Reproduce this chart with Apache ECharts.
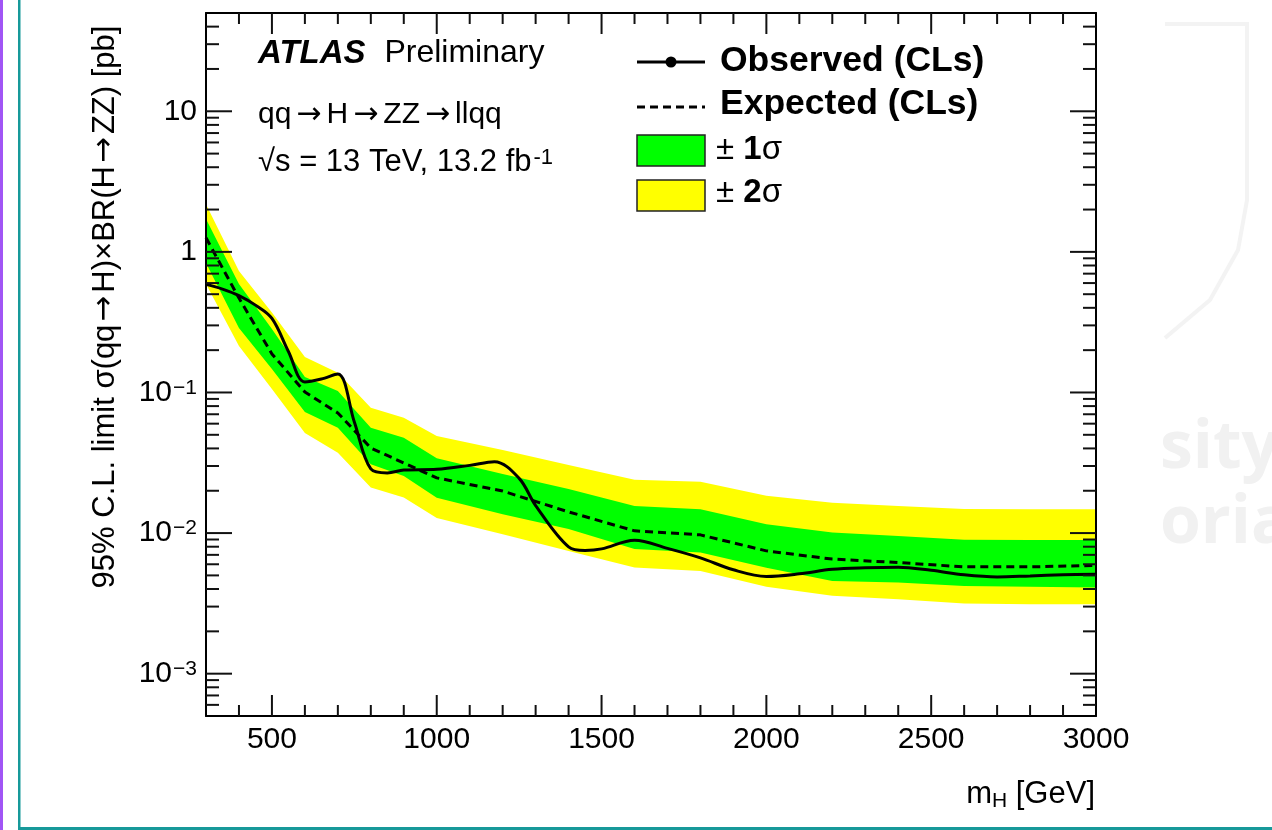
<!DOCTYPE html>
<html><head><meta charset="utf-8">
<script src="https://cdn.jsdelivr.net/npm/echarts@6/dist/echarts.min.js"></script>
<style>html,body{margin:0;padding:0;background:#fff;}#c{width:1272px;height:830px;}</style>
</head><body><div id="c"></div>
<script>
// ---- data ----
const massBand = [300,400,500,600,700,800,900,1000,1200,1400,1600,1800,2000,2200,2400,2600,2800,3000];
const expected = [1.26,0.469,0.188,0.1008,0.0715,0.0403,0.0315,0.0247,0.0199,0.01415,0.01037,0.00971,0.00747,0.00653,0.00617,0.00575,0.00575,0.00589];
const plus1sig = [1.71,0.590,0.283,0.129,0.1025,0.0562,0.0477,0.0340,0.0263,0.0206,0.0156,0.0148,0.01157,0.01008,0.00955,0.00895,0.00891,0.00891];
const minus1sig = [0.833,0.287,0.147,0.0727,0.0562,0.0309,0.0255,0.0178,0.0136,0.01071,0.00772,0.00727,0.00566,0.00457,0.00445,0.00421,0.00415,0.00410];
const plus2sig = [2.18,0.731,0.370,0.179,0.138,0.0780,0.0662,0.0491,0.0390,0.0305,0.0239,0.0232,0.0184,0.0164,0.0156,0.01486,0.01479,0.01479];
const minus2sig = [0.590,0.214,0.106,0.0516,0.0373,0.0211,0.0179,0.0128,0.00979,0.00747,0.00569,0.00538,0.00415,0.00358,0.00339,0.00315,0.00312,0.00312];
const massObs = [300,350,400,450,500,550,600,650,700,750,800,850,900,1000,1100,1175,1250,1300,1400,1450,1500,1600,1700,1800,1900,2000,2100,2200,2300,2400,2500,2600,2700,2800,2900,3000];
const observed = [0.587,0.544,0.489,0.418,0.336,0.1956,0.1187,0.1247,0.1354,0.0617,0.0286,0.0268,0.0281,0.0284,0.0303,0.0322,0.0245,0.0157,0.00798,0.00753,0.00772,0.00890,0.00778,0.00666,0.00548,0.00492,0.00513,0.00552,0.00566,0.00571,0.00543,0.00505,0.00488,0.00496,0.00505,0.00510];
const xTickValues = [400,500,600,700,800,900,1000,1100,1200,1300,1400,1500,1600,1700,1800,1900,2000,2100,2200,2300,2400,2500,2600,2700,2800,2900];
const yTickValues = [0.0006,0.0007,0.0008,0.0009,0.001,0.002,0.003,0.004,0.005,0.006,0.007,0.008,0.009,0.01,0.02,0.03,0.04,0.05,0.06,0.07,0.08,0.09,0.1,0.2,0.3,0.4,0.5,0.6,0.7,0.8,0.9,1,2,3,4,5,6,7,8,9,10,20,30,40];
const X_MIN = 300, X_MAX = 3000, Y_MIN = 5e-4, Y_MAX = 50;

const FONT = '"Liberation Sans", Arial, Helvetica, sans-serif';
const ARROWFONT = '"DejaVu Sans", sans-serif';
const chart = echarts.init(document.getElementById('c'), null, {renderer: 'canvas'});

function bandSeries(name, up, down, color, z) {
  return {
    name, type: 'custom', z, silent: true,
    data: massBand.map((m, i) => [m, up[i], down[i]]),
    encode: {x: 0, y: [1, 2]},
    renderItem: (params, api) => {
      if (params.dataIndex !== 0) return null;
      const top = massBand.map((m, i) => api.coord([m, up[i]]));
      const bot = massBand.map((m, i) => api.coord([m, down[i]])).reverse();
      return {type: 'polygon', shape: {points: top.concat(bot)}, style: {fill: color}};
    }
  };
}

function isPow10(v) { const l = Math.log10(v); return Math.abs(l - Math.round(l)) < 1e-6; }
// turn "a→b" into rich tokens so arrows use a wider glyph
function arrowRich(str) {
  return str.split('\u2192').map(s => s ? '{t|' + s + '}' : '').join('{a|\u2192}');
}

const option = {
  animation: false,
  backgroundColor: '#fff',
  textStyle: {fontFamily: FONT, color: '#000'},
  grid: {left: 206, top: 13, width: 890, height: 703, containLabel: false, outerBoundsMode: 'none'},
  xAxis: [
    {type: 'value', min: X_MIN, max: X_MAX, interval: 100, position: 'bottom', z: 10,
     axisLine: {show: true, onZero: false, lineStyle: {color: '#000', width: 2}},
     axisTick: {show: false}, splitLine: {show: false},
     axisLabel: {show: true, margin: 9, color: '#000', fontSize: 30, fontFamily: FONT,
       formatter: v => (v % 500 === 0 ? String(v) : '')}},
    {type: 'value', min: X_MIN, max: X_MAX, interval: 100, position: 'top', z: 10,
     axisLine: {show: true, onZero: false, lineStyle: {color: '#000', width: 2}},
     axisTick: {show: false}, splitLine: {show: false}, axisLabel: {show: false}}
  ],
  yAxis: [
    {type: 'log', logBase: 10, min: Y_MIN, max: Y_MAX, position: 'left', z: 10,
     axisLine: {show: true, onZero: false, lineStyle: {color: '#000', width: 2}},
     axisTick: {show: false}, minorTick: {show: false}, splitLine: {show: false},
     axisLabel: {show: true, margin: 9, color: '#000', fontSize: 30, fontFamily: FONT,
       formatter: v => {
         if (!isPow10(v)) return '';
         const e = Math.round(Math.log10(v));
         if (e === 0) return '{b|1}';
         if (e === 1) return '{b|10}';
         return '{b|10}{s|\u2212' + (-e) + '}';
       },
       rich: {b: {fontSize: 30, fontFamily: FONT, color: '#000'},
              s: {fontSize: 21, fontFamily: FONT, color: '#000', verticalAlign: 'top', padding: [0, 0, 0, 1]}}}},
    {type: 'log', logBase: 10, min: Y_MIN, max: Y_MAX, position: 'right', z: 10,
     axisLine: {show: true, onZero: false, lineStyle: {color: '#000', width: 2}},
     axisTick: {show: false}, minorTick: {show: false}, splitLine: {show: false}, axisLabel: {show: false}}
  ],
  series: [
    bandSeries('\u00b1 2\u03c3', plus2sig, minus2sig, '#ffff00', 1),
    bandSeries('\u00b1 1\u03c3', plus1sig, minus1sig, '#00ff00', 2),
    {name: 'Expected (CLs)', type: 'line', z: 5, symbol: 'none', silent: true,
     data: massBand.map((m, i) => [m, expected[i]]),
     lineStyle: {color: '#000', width: 3, type: [8, 5]}},
    {name: 'Observed (CLs)', type: 'line', z: 6, symbol: 'none', silent: true, smooth: 0.35,
     data: massObs.map((m, i) => [m, observed[i]]),
     lineStyle: {color: '#000', width: 3}},
    {name: 'xticks', type: 'custom', z: 11, silent: true,
     data: xTickValues.map(v => [v, Y_MIN]),
     renderItem: (params, api) => {
       const v = api.value(0);
       const len = (v % 500 === 0) ? 21 : 11;
       const b = api.coord([v, Y_MIN]), t = api.coord([v, Y_MAX]);
       const st = {stroke: '#111', lineWidth: 2};
       return {type: 'group', children: [
         {type: 'line', shape: {x1: b[0], y1: b[1], x2: b[0], y2: b[1] - len}, style: st},
         {type: 'line', shape: {x1: t[0], y1: t[1], x2: t[0], y2: t[1] + len}, style: st}]};
     }},
    {name: 'yticks', type: 'custom', z: 11, silent: true,
     data: yTickValues.map(v => [X_MIN, v]),
     renderItem: (params, api) => {
       const v = api.value(1);
       const len = isPow10(v) ? 26 : 13;
       const l = api.coord([X_MIN, v]), r = api.coord([X_MAX, v]);
       const st = {stroke: '#111', lineWidth: 2};
       return {type: 'group', children: [
         {type: 'line', shape: {x1: l[0], y1: l[1], x2: l[0] + len, y2: l[1]}, style: st},
         {type: 'line', shape: {x1: r[0], y1: r[1], x2: r[0] - len, y2: r[1]}, style: st}]};
     }}
  ],
  graphic: [
    // page frame lines
    {type: 'rect', shape: {x: 0, y: 0, width: 3, height: 830}, style: {fill: '#a155f5'}, z: 1},
    {type: 'rect', shape: {x: 18, y: 0, width: 2.5, height: 830}, style: {fill: '#17999a'}, z: 1},
    {type: 'rect', shape: {x: 18, y: 827, width: 1254, height: 3}, style: {fill: '#17999a'}, z: 1},
    // faint watermark
    {type: 'polyline', shape: {points: [[1165, 24], [1247, 24], [1247, 200], [1238, 250], [1210, 300], [1165, 338]]}, style: {stroke: '#f3f3f3', lineWidth: 4, fill: null}, z: 0},
    {type: 'text', left: 1160, top: 416, style: {text: 'sity', font: 'bold 66px "Open Sans", sans-serif', fill: '#f1f1f1'}, z: 0},
    {type: 'text', left: 1160, top: 491, style: {text: 'oria', font: 'bold 66px "Open Sans", sans-serif', fill: '#f1f1f1'}, z: 0},
    // annotations
    {type: 'text', left: 258, top: 37, z: 20, style: {text: '{a|ATLAS}{p| Preliminary}', rich: {
      a: {font: 'italic bold 33px ' + FONT, fill: '#000'}, p: {font: '32px ' + FONT, fill: '#000', padding: [0, 0, 0, 10]}}}},
    {type: 'text', left: 258, top: 100, z: 20, style: {text: arrowRich('qq\u2192H\u2192ZZ\u2192llqq'), rich: {
      t: {font: '30px ' + FONT, fill: '#000'}, a: {font: '30px ' + ARROWFONT, fill: '#000', padding: [0, 5, 0, 5]}}}},
    {type: 'text', left: 258, top: 147, z: 20, style: {text: '{n|\u221as = 13 TeV, 13.2 fb}{s|-1}', rich: {
      n: {font: '31px ' + FONT, fill: '#000'}, s: {font: '22px ' + FONT, fill: '#000', verticalAlign: 'top', padding: [0, 0, 0, 2]}}}},
    // legend
    {type: 'line', z: 20, shape: {x1: 637, y1: 62, x2: 705, y2: 62}, style: {stroke: '#000', lineWidth: 3}},
    {type: 'circle', z: 20, shape: {cx: 671, cy: 62, r: 5.5}, style: {fill: '#000'}},
    {type: 'text', z: 20, left: 720, top: 43, style: {text: 'Observed (CLs)', font: 'bold 35.5px ' + FONT, fill: '#000'}},
    {type: 'line', z: 20, shape: {x1: 637, y1: 107, x2: 705, y2: 107}, style: {stroke: '#000', lineWidth: 3, lineDash: [8, 5]}},
    {type: 'text', z: 20, left: 720, top: 86, style: {text: 'Expected (CLs)', font: 'bold 35.5px ' + FONT, fill: '#000'}},
    {type: 'rect', z: 20, shape: {x: 637, y: 135, width: 68, height: 31}, style: {fill: '#00ff00', stroke: '#222', lineWidth: 1.5}},
    {type: 'text', z: 20, left: 716, top: 133, style: {text: '{n|\u00b1 }{b|1}{n|\u03c3}', rich: {
      n: {font: '33px ' + FONT, fill: '#000'}, b: {font: 'bold 33px ' + FONT, fill: '#000'}}}},
    {type: 'rect', z: 20, shape: {x: 637, y: 180, width: 68, height: 31}, style: {fill: '#ffff00', stroke: '#222', lineWidth: 1.5}},
    {type: 'text', z: 20, left: 716, top: 176, style: {text: '{n|\u00b1 }{b|2}{n|\u03c3}', rich: {
      n: {font: '33px ' + FONT, fill: '#000'}, b: {font: 'bold 33px ' + FONT, fill: '#000'}}}},
    // axis titles
    {type: 'text', z: 20, x: 105, y: 307, rotation: Math.PI / 2, style: {
      text: arrowRich('95% C.L. limit \u03c3(qq\u2192H)\u00d7BR(H\u2192ZZ) [pb]'),
      align: 'center', verticalAlign: 'middle',
      rich: {t: {font: '31px ' + FONT, fill: '#000'}, a: {font: '31px ' + ARROWFONT, fill: '#000', padding: [0, 3, 0, 3]}}}},
    {type: 'text', z: 20, x: 1095, y: 794, style: {
      text: '{m|m}{s|H}{m| [GeV]}', align: 'right', verticalAlign: 'middle',
      rich: {m: {font: '31px ' + FONT, fill: '#000'}, s: {font: '21px ' + FONT, fill: '#000', verticalAlign: 'bottom', padding: [15, 0, 0, 0]}}}}
  ]
};
chart.setOption(option);
</script>
</body></html>
